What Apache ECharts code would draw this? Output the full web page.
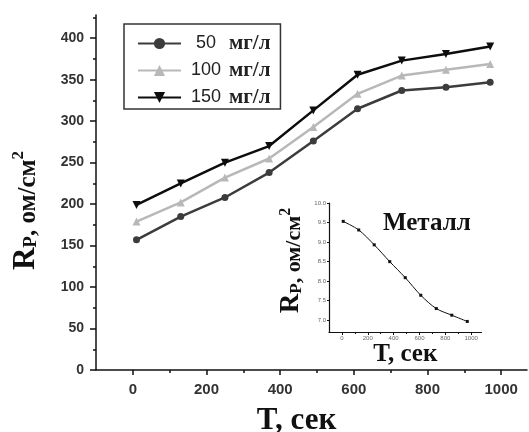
<!DOCTYPE html>
<html>
<head>
<meta charset="utf-8">
<script src="https://cdn.jsdelivr.net/npm/echarts@6/dist/echarts.min.js"></script>
<style>html,body{margin:0;padding:0;background:#fff}#c{width:529px;height:432px}</style>
</head>
<body>
<div id="c"></div>
<script>
// ---- data ----
const timeSec = [10, 130, 250, 370, 490, 610, 730, 850, 970];
const seriesNames = ['50 мг/л', '100 мг/л', '150 мг/л'];
const rp50 = [157, 185, 208, 238, 276, 315, 337, 341, 347];
const rp100 = [179, 202, 232, 255, 293, 333, 355, 362, 369];
const rp150 = [199, 225, 250, 270, 313, 356, 373, 381, 390];
const metalTime = [10, 130, 250, 370, 490, 610, 730, 850, 970];
const metalRp = [9.53, 9.31, 8.93, 8.50, 8.09, 7.64, 7.30, 7.13, 6.97];
const xTickLabels = [0, 200, 400, 600, 800, 1000];
const xMinorTicks = [100, 300, 500, 700, 900];
const yTickLabels = [0, 50, 100, 150, 200, 250, 300, 350, 400];
const yMinorTicks = [25, 75, 125, 175, 225, 275, 325, 375, 425];
const insetYTicks = [7.0, 7.5, 8.0, 8.5, 9.0, 9.5, 10.0];

const pair = (xs, ys) => xs.map((x, i) => [x, ys[i]]);
const SERIF = 'Liberation Serif';
const SANS = 'Liberation Sans';
const ink = '#111';

const chart = echarts.init(document.getElementById('c'), null, {renderer: 'canvas'});

const mainAxisLine = {show: true, onZero: false, lineStyle: {color: ink, width: 1.5}};
const insetAxisLine = {show: true, onZero: false, lineStyle: {color: ink, width: 1.2}};
const hiddenLine = {show: false, onZero: false};

const option = {
  backgroundColor: '#fff',
  animation: false,
  grid: [
    {left: 96, top: 15, width: 431, height: 355, containLabel: false, outerBoundsMode: 'none'},
    {left: 329, top: 203, width: 152.5, height: 129, containLabel: false, outerBoundsMode: 'none'}
  ],
  legend: {
    left: 124, top: 24,
    orient: 'vertical',
    data: seriesNames,
    itemWidth: 43, itemHeight: 14, itemGap: 6,
    padding: [9, 10, 1, 13],
    borderColor: '#333', borderWidth: 1.5,
    formatter: name => {
      const parts = name.split(' ');
      return '{n|' + parts[0] + '}{u|' + parts[1] + '}';
    },
    textStyle: {
      rich: {
        n: {fontFamily: SANS, fontSize: 18, lineHeight: 20, color: '#222', width: 40, align: 'center'},
        u: {fontFamily: SERIF, fontWeight: 'bold', fontSize: 21, lineHeight: 20, color: '#222', padding: [0, 0, 0, 3]}
      }
    }
  },
  xAxis: [
    {
      gridIndex: 0, type: 'value', min: -100, max: 1070, position: 'bottom',
      name: 'T, сек', nameLocation: 'middle', nameGap: 35,
      nameTextStyle: {fontFamily: SERIF, fontWeight: 'bold', fontSize: 31, color: ink, padding: [0, 30, 0, 0]},
      axisLine: mainAxisLine,
      axisTick: {show: true, customValues: xTickLabels, length: 5, lineStyle: {color: ink, width: 1.5}},
      axisLabel: {customValues: xTickLabels, margin: 12, fontFamily: SANS, fontWeight: 'bold', fontSize: 15, color: '#333', formatter: v => String(v)},
      splitLine: {show: false}
    },
    {
      gridIndex: 0, type: 'value', min: -100, max: 1070, position: 'bottom',
      axisLine: hiddenLine,
      axisTick: {show: true, customValues: xMinorTicks, length: 3, lineStyle: {color: ink, width: 1.5}},
      axisLabel: {show: false},
      splitLine: {show: false}
    },
    {
      gridIndex: 1, type: 'value', min: -100, max: 1080, position: 'bottom',
      name: 'T, сек', nameLocation: 'middle', nameGap: 9,
      nameTextStyle: {fontFamily: SERIF, fontWeight: 'bold', fontSize: 25, color: ink, verticalAlign: 'top'},
      axisLine: insetAxisLine,
      axisTick: {show: true, customValues: xTickLabels, length: 3, lineStyle: {color: ink, width: 1}},
      axisLabel: {customValues: xTickLabels, margin: 3, fontFamily: SANS, fontSize: 6, color: '#666', formatter: v => String(v)},
      splitLine: {show: false}
    },
    {
      gridIndex: 1, type: 'value', min: -100, max: 1080, position: 'bottom',
      axisLine: hiddenLine,
      axisTick: {show: true, customValues: xMinorTicks, length: 2, lineStyle: {color: ink, width: 1}},
      axisLabel: {show: false},
      splitLine: {show: false}
    }
  ],
  yAxis: [
    {
      gridIndex: 0, type: 'value', min: 0, max: 428, position: 'left',
      name: '{r|R}{p|P}{t|, ом/см}{s|2}', nameLocation: 'middle', nameGap: 55,
      nameTextStyle: {
        fontFamily: SERIF, fontWeight: 'bold', color: ink, padding: [0, 36, 0, 0],
        rich: {
          r: {fontFamily: SERIF, fontWeight: 'bold', fontSize: 31, color: ink},
          p: {fontFamily: SERIF, fontWeight: 'bold', fontSize: 19, color: ink, verticalAlign: 'bottom'},
          t: {fontFamily: SERIF, fontWeight: 'bold', fontSize: 25, color: ink, verticalAlign: 'bottom'},
          s: {fontFamily: SERIF, fontWeight: 'bold', fontSize: 17, color: ink, verticalAlign: 'top'}
        }
      },
      axisLine: mainAxisLine,
      axisTick: {show: true, customValues: yTickLabels, length: 6, lineStyle: {color: ink, width: 1.5}},
      axisLabel: {customValues: yTickLabels, margin: 12, fontFamily: SANS, fontWeight: 'bold', fontSize: 14, color: '#333'},
      splitLine: {show: false}
    },
    {
      gridIndex: 0, type: 'value', min: 0, max: 428, position: 'left',
      axisLine: hiddenLine,
      axisTick: {show: true, customValues: yMinorTicks, length: 3, lineStyle: {color: ink, width: 1.5}},
      axisLabel: {show: false},
      splitLine: {show: false}
    },
    {
      gridIndex: 1, type: 'value', min: 6.7, max: 10.0, position: 'left',
      name: '{r|R}{p|P}{t|, ом/см}{s|2}', nameLocation: 'middle', nameGap: 24,
      nameTextStyle: {
        fontFamily: SERIF, fontWeight: 'bold', color: ink, padding: [0, 0, 0, 14],
        rich: {
          r: {fontFamily: SERIF, fontWeight: 'bold', fontSize: 27, color: ink},
          p: {fontFamily: SERIF, fontWeight: 'bold', fontSize: 17, color: ink, verticalAlign: 'bottom'},
          t: {fontFamily: SERIF, fontWeight: 'bold', fontSize: 22, color: ink, verticalAlign: 'bottom'},
          s: {fontFamily: SERIF, fontWeight: 'bold', fontSize: 16, color: ink, verticalAlign: 'top'}
        }
      },
      axisLine: insetAxisLine,
      axisTick: {show: true, customValues: insetYTicks, length: 2, lineStyle: {color: ink, width: 1}},
      axisLabel: {customValues: insetYTicks, margin: 3, fontFamily: SANS, fontSize: 6, color: '#666', formatter: v => v.toFixed(1)},
      splitLine: {show: false}
    }
  ],
  graphic: [
    {type: 'text', left: 383, top: 211, style: {text: 'Металл', fontFamily: SERIF, fontWeight: 'bold', fontSize: 25, fill: ink}}
  ],
  series: [
    {
      name: seriesNames[0], type: 'line', xAxisIndex: 0, yAxisIndex: 0,
      data: pair(timeSec, rp50),
      symbol: 'circle', symbolSize: 7,
      lineStyle: {color: '#3c3c3c', width: 2.5}, itemStyle: {color: '#3c3c3c'}
    },
    {
      name: seriesNames[1], type: 'line', xAxisIndex: 0, yAxisIndex: 0,
      data: pair(timeSec, rp100),
      symbol: 'triangle', symbolSize: 8,
      lineStyle: {color: '#b8b8b8', width: 2.5}, itemStyle: {color: '#b8b8b8'}
    },
    {
      name: seriesNames[2], type: 'line', xAxisIndex: 0, yAxisIndex: 0,
      data: pair(timeSec, rp150),
      symbol: 'triangle', symbolRotate: 180, symbolSize: 8,
      lineStyle: {color: '#0d0d0d', width: 2.5}, itemStyle: {color: '#0d0d0d'}
    },
    {
      name: 'Металл', type: 'line', xAxisIndex: 2, yAxisIndex: 2,
      data: pair(metalTime, metalRp),
      symbol: 'rect', symbolSize: 3, smooth: 0.3,
      lineStyle: {color: ink, width: 1}, itemStyle: {color: ink}
    }
  ]
};
chart.setOption(option);
</script>
</body>
</html>
